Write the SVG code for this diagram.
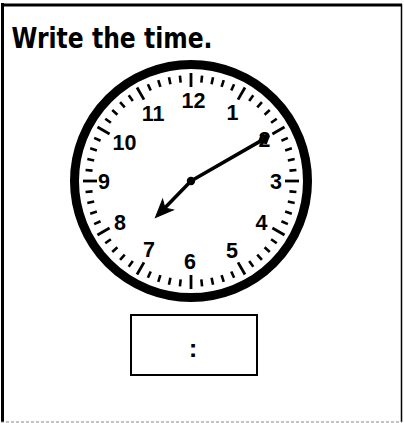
<svg xmlns="http://www.w3.org/2000/svg" width="404" height="423" viewBox="0 0 404 423">
<style>
.t{font-family:"DejaVu Sans",sans-serif;font-weight:bold;font-size:28px;fill:#000}
.n{font-family:"Liberation Sans",Arial,sans-serif;font-weight:bold;font-size:21.5px;fill:#000;text-anchor:middle}
.m{stroke:#000;stroke-width:2.6;stroke-linecap:butt}
.h{stroke:#000;stroke-width:2.8}
.hand{stroke:#000;stroke-width:3.5;stroke-linecap:round}
</style>
<rect width="404" height="423" fill="#fff"/>
<g id="frame">
<line x1="2.5" y1="3" x2="2.5" y2="422" stroke="#000" stroke-width="3"/>
<line x1="1" y1="5" x2="402" y2="5" stroke="#000" stroke-width="3"/>
<line x1="401.5" y1="4" x2="401.5" y2="422" stroke="#000" stroke-width="1.5"/>
<line x1="1" y1="422" x2="402" y2="422" stroke="#888" stroke-width="1.2" stroke-dasharray="3 2"/>
</g>
<text id="title" class="t" x="11.5" y="48" textLength="201" lengthAdjust="spacingAndGlyphs">Write the time.</text>
<g id="clock">
<circle cx="191" cy="181" r="116.5" fill="#fff" stroke="#000" stroke-width="9"/>
<g transform="translate(191 181)">
<g id="ticks">
<line class="h" x1="0" y1="-94" x2="0" y2="-108" transform="rotate(0)"/>
<line class="m" x1="0" y1="-99" x2="0" y2="-106" transform="rotate(6)"/>
<line class="m" x1="0" y1="-99" x2="0" y2="-106" transform="rotate(12)"/>
<line class="m" x1="0" y1="-99" x2="0" y2="-106" transform="rotate(18)"/>
<line class="m" x1="0" y1="-99" x2="0" y2="-106" transform="rotate(24)"/>
<line class="h" x1="0" y1="-94" x2="0" y2="-108" transform="rotate(30)"/>
<line class="m" x1="0" y1="-99" x2="0" y2="-106" transform="rotate(36)"/>
<line class="m" x1="0" y1="-99" x2="0" y2="-106" transform="rotate(42)"/>
<line class="m" x1="0" y1="-99" x2="0" y2="-106" transform="rotate(48)"/>
<line class="m" x1="0" y1="-99" x2="0" y2="-106" transform="rotate(54)"/>
<line class="h" x1="0" y1="-94" x2="0" y2="-108" transform="rotate(60)"/>
<line class="m" x1="0" y1="-99" x2="0" y2="-106" transform="rotate(66)"/>
<line class="m" x1="0" y1="-99" x2="0" y2="-106" transform="rotate(72)"/>
<line class="m" x1="0" y1="-99" x2="0" y2="-106" transform="rotate(78)"/>
<line class="m" x1="0" y1="-99" x2="0" y2="-106" transform="rotate(84)"/>
<line class="h" x1="0" y1="-94" x2="0" y2="-108" transform="rotate(90)"/>
<line class="m" x1="0" y1="-99" x2="0" y2="-106" transform="rotate(96)"/>
<line class="m" x1="0" y1="-99" x2="0" y2="-106" transform="rotate(102)"/>
<line class="m" x1="0" y1="-99" x2="0" y2="-106" transform="rotate(108)"/>
<line class="m" x1="0" y1="-99" x2="0" y2="-106" transform="rotate(114)"/>
<line class="h" x1="0" y1="-94" x2="0" y2="-108" transform="rotate(120)"/>
<line class="m" x1="0" y1="-99" x2="0" y2="-106" transform="rotate(126)"/>
<line class="m" x1="0" y1="-99" x2="0" y2="-106" transform="rotate(132)"/>
<line class="m" x1="0" y1="-99" x2="0" y2="-106" transform="rotate(138)"/>
<line class="m" x1="0" y1="-99" x2="0" y2="-106" transform="rotate(144)"/>
<line class="h" x1="0" y1="-94" x2="0" y2="-108" transform="rotate(150)"/>
<line class="m" x1="0" y1="-99" x2="0" y2="-106" transform="rotate(156)"/>
<line class="m" x1="0" y1="-99" x2="0" y2="-106" transform="rotate(162)"/>
<line class="m" x1="0" y1="-99" x2="0" y2="-106" transform="rotate(168)"/>
<line class="m" x1="0" y1="-99" x2="0" y2="-106" transform="rotate(174)"/>
<line class="h" x1="0" y1="-94" x2="0" y2="-108" transform="rotate(180)"/>
<line class="m" x1="0" y1="-99" x2="0" y2="-106" transform="rotate(186)"/>
<line class="m" x1="0" y1="-99" x2="0" y2="-106" transform="rotate(192)"/>
<line class="m" x1="0" y1="-99" x2="0" y2="-106" transform="rotate(198)"/>
<line class="m" x1="0" y1="-99" x2="0" y2="-106" transform="rotate(204)"/>
<line class="h" x1="0" y1="-94" x2="0" y2="-108" transform="rotate(210)"/>
<line class="m" x1="0" y1="-99" x2="0" y2="-106" transform="rotate(216)"/>
<line class="m" x1="0" y1="-99" x2="0" y2="-106" transform="rotate(222)"/>
<line class="m" x1="0" y1="-99" x2="0" y2="-106" transform="rotate(228)"/>
<line class="m" x1="0" y1="-99" x2="0" y2="-106" transform="rotate(234)"/>
<line class="h" x1="0" y1="-94" x2="0" y2="-108" transform="rotate(240)"/>
<line class="m" x1="0" y1="-99" x2="0" y2="-106" transform="rotate(246)"/>
<line class="m" x1="0" y1="-99" x2="0" y2="-106" transform="rotate(252)"/>
<line class="m" x1="0" y1="-99" x2="0" y2="-106" transform="rotate(258)"/>
<line class="m" x1="0" y1="-99" x2="0" y2="-106" transform="rotate(264)"/>
<line class="h" x1="0" y1="-94" x2="0" y2="-108" transform="rotate(270)"/>
<line class="m" x1="0" y1="-99" x2="0" y2="-106" transform="rotate(276)"/>
<line class="m" x1="0" y1="-99" x2="0" y2="-106" transform="rotate(282)"/>
<line class="m" x1="0" y1="-99" x2="0" y2="-106" transform="rotate(288)"/>
<line class="m" x1="0" y1="-99" x2="0" y2="-106" transform="rotate(294)"/>
<line class="h" x1="0" y1="-94" x2="0" y2="-108" transform="rotate(300)"/>
<line class="m" x1="0" y1="-99" x2="0" y2="-106" transform="rotate(306)"/>
<line class="m" x1="0" y1="-99" x2="0" y2="-106" transform="rotate(312)"/>
<line class="m" x1="0" y1="-99" x2="0" y2="-106" transform="rotate(318)"/>
<line class="m" x1="0" y1="-99" x2="0" y2="-106" transform="rotate(324)"/>
<line class="h" x1="0" y1="-94" x2="0" y2="-108" transform="rotate(330)"/>
<line class="m" x1="0" y1="-99" x2="0" y2="-106" transform="rotate(336)"/>
<line class="m" x1="0" y1="-99" x2="0" y2="-106" transform="rotate(342)"/>
<line class="m" x1="0" y1="-99" x2="0" y2="-106" transform="rotate(348)"/>
<line class="m" x1="0" y1="-99" x2="0" y2="-106" transform="rotate(354)"/>
</g>
</g>
<g id="numbers">
<text class="n" x="193.5" y="108">12</text>
<text class="n" x="232.5" y="120">1</text>
<text class="n" x="264.5" y="146.5">2</text>
<text class="n" x="276" y="188.5">3</text>
<text class="n" x="261.5" y="230">4</text>
<text class="n" x="232" y="257.5">5</text>
<text class="n" x="190" y="268.5">6</text>
<text class="n" x="149" y="256.5">7</text>
<text class="n" x="120" y="230">8</text>
<text class="n" x="104" y="188.5">9</text>
<text class="n" x="124.5" y="150">10</text>
<text class="n" x="153" y="120.5">11</text>
</g>
<g id="minute-hand" transform="translate(191 181) rotate(-29.9)">
<line class="hand" x1="0" y1="0" x2="80" y2="0"/>
<polygon points="77,0 84,-6 91,0 84,6" fill="#000"/>
</g>
<g id="hour-hand" transform="translate(191 181) rotate(134.2)">
<line class="hand" x1="0" y1="0" x2="38" y2="0"/>
<polygon points="51,0 33,-7.5 37.5,0 33,7.5" fill="#000" stroke="#000" stroke-width="1"/>
</g>
<circle cx="191" cy="181" r="4.2" fill="#000"/>
</g>
<g id="answer-box">
<rect x="131" y="315" width="126" height="60" fill="#fff" stroke="#000" stroke-width="2"/>
<text x="193" y="357" font-family="Liberation Sans, Arial, sans-serif" font-weight="bold" font-size="26" text-anchor="middle">:</text>
</g>
</svg>
